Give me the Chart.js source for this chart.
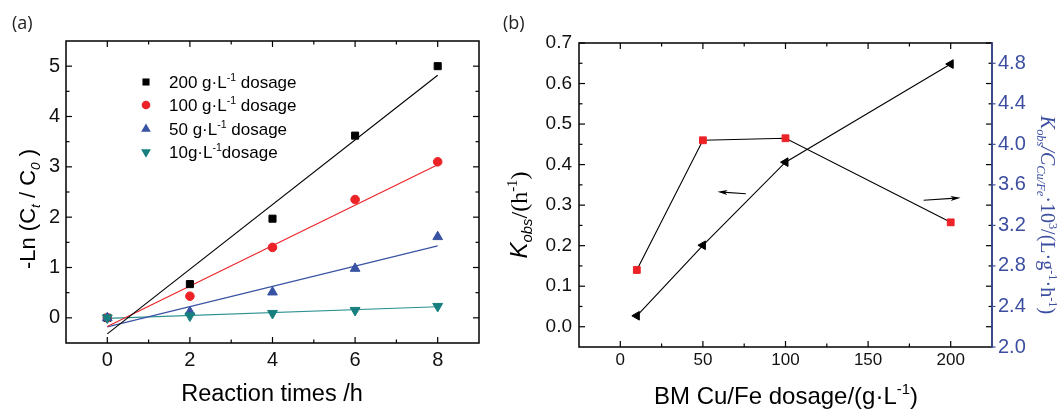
<!DOCTYPE html>
<html>
<head>
<meta charset="utf-8">
<script src="https://cdn.jsdelivr.net/npm/chart.js@4.4.0/dist/chart.umd.min.js"></script>
<style>
html, body { margin: 0; padding: 0; background: #fff; }
#wrap { position: relative; width: 1059px; height: 410px; overflow: hidden; }
#chartA { position: absolute; left: 0; top: 0; }
#chartB { position: absolute; left: 500px; top: 0; }
</style>
</head>
<body>
<div id="wrap">
  <canvas id="chartA" width="500" height="410"></canvas>
  <canvas id="chartB" width="559" height="410"></canvas>
</div>
<script>
// ---- panel (a): -Ln(Ct/C0) vs reaction time ----
const timesH = [0, 2, 4, 6, 8];
const dose200 = [0, 0.67, 1.97, 3.62, 5.0];
const dose100 = [0, 0.43, 1.40, 2.35, 3.10];
const dose50 = [0, 0.12, 0.51, 0.98, 1.61];
const dose10 = [0, 0.04, 0.09, 0.15, 0.23];

// fitted lines, read at t = 0 and t = 8
const fitT = [0, 8];
const fit200 = [-0.32, 4.82];
const fit100 = [-0.17, 3.04];
const fit50 = [-0.18, 1.43];
const fit10 = [-0.01, 0.22];

const aXTicks = [0, 2, 4, 6, 8];
const aXMinor = [1, 3, 5, 7];
const aYTicks = [0, 1, 2, 3, 4, 5];
const aYMinor = [0.5, 1.5, 2.5, 3.5, 4.5];

// ---- panel (b): Kobs and Kobs/C vs dosage ----
const dosageB = [10, 50, 100, 200];
const kObs = [0.027, 0.201, 0.406, 0.648];
const kNorm = [2.76, 4.04, 4.06, 3.23];

const bXTicks = [0, 50, 100, 150, 200];
const bXMinor = [25, 75, 125, 175];
const bYTicks = [0, 0.1, 0.2, 0.3, 0.4, 0.5, 0.6, 0.7];
const bYMinor = [0.05, 0.15, 0.25, 0.35, 0.45, 0.55, 0.65];
const bY2Ticks = [2.0, 2.4, 2.8, 3.2, 3.6, 4.0, 4.4, 4.8];

// arrows (tail -> head) pointing to the axis of each curve
const arrowLeftX = [76, 58.8];
const arrowLeftY = [0.328, 0.333];
const arrowRightX = [183.6, 206];
const arrowRightY = [0.312, 0.318];

const SANS = "'Liberation Sans', Arial, sans-serif";
const SERIF = "'Liberation Serif', 'Times New Roman', serif";
const TAG = "'Open Sans', 'Liberation Sans', sans-serif";
const BLUE_AXIS = '#3c4ea0';
const RED = '#ec2227';
const BLUE = '#3953a4';
const TEAL = '#17807e';

Chart.defaults.font.family = SANS;
Chart.defaults.color = '#111';

const toXY = (xs, ys) => xs.map((x, i) => ({ x: x, y: ys[i] }));

// draw text with sub/superscripts, y is the baseline
function drawRich(ctx, it) {
  const base = it.size;
  let w = 0;
  const segs = it.parts.map(p => {
    const small = p.sub || p.sup;
    const sz = small ? base * 0.62 : base;
    const font = (p.italic ? 'italic ' : '') + sz + 'px ' + (p.family || it.family);
    ctx.font = font;
    const seg = { t: p.t, font: font, dx: w, dy: p.sub ? base * 0.22 : (p.sup ? -base * 0.42 : 0) };
    w += ctx.measureText(p.t).width;
    return seg;
  });
  ctx.save();
  ctx.translate(it.x, it.y);
  if (it.rot) ctx.rotate(it.rot * Math.PI / 180);
  const start = it.align === 'center' ? -w / 2 : (it.align === 'right' ? -w : 0);
  ctx.fillStyle = it.color || '#000';
  ctx.textBaseline = 'alphabetic';
  ctx.textAlign = 'left';
  segs.forEach(s => { ctx.font = s.font; ctx.fillText(s.t, start + s.dx, s.dy); });
  ctx.restore();
}

function drawMarker(ctx, style, x, y, r, color) {
  ctx.save();
  ctx.fillStyle = color;
  ctx.beginPath();
  if (style === 'rect') {
    const s = r * Math.SQRT1_2;
    ctx.rect(x - s, y - s, 2 * s, 2 * s);
  } else if (style === 'circle') {
    ctx.arc(x, y, r, 0, Math.PI * 2);
  } else {
    const rot = style === 'triDown' ? Math.PI : 0;
    for (let i = 0; i < 3; i++) {
      const ang = rot + i * 2 * Math.PI / 3;
      const px = x + Math.sin(ang) * r, py = y - Math.cos(ang) * r;
      if (i === 0) ctx.moveTo(px, py); else ctx.lineTo(px, py);
    }
  }
  ctx.closePath();
  ctx.fill();
  ctx.restore();
}

// frame with inward ticks on all four sides
function framePlugin(cfg) {
  return {
    id: 'frame_' + cfg.name,
    afterDatasetsDraw(chart) {
      const ctx = chart.ctx, a = chart.chartArea, sx = chart.scales.x, sy = chart.scales.y;
      ctx.save();
      ctx.strokeStyle = '#000';
      ctx.lineWidth = 1.2;
      const seg = (x1, y1, x2, y2) => { ctx.beginPath(); ctx.moveTo(x1, y1); ctx.lineTo(x2, y2); ctx.stroke(); };
      const xt = (vals, len) => vals.forEach(v => {
        const p = sx.getPixelForValue(v);
        seg(p, a.bottom, p, a.bottom - len); seg(p, a.top, p, a.top + len);
      });
      const yt = (vals, len) => vals.forEach(v => {
        const p = sy.getPixelForValue(v);
        seg(a.left, p, a.left + len, p); seg(a.right, p, a.right - len, p);
      });
      xt(cfg.xMajor, 6); xt(cfg.xMinor, 3.5);
      yt(cfg.yMajor, 6); yt(cfg.yMinor, 3.5);
      ctx.lineWidth = 1.5;
      ctx.strokeRect(a.left, a.top, a.right - a.left, a.bottom - a.top);
      if (cfg.y2Major) {
        const s2 = chart.scales.y2;
        ctx.strokeStyle = BLUE_AXIS;
        seg(a.right, a.top - 0.75, a.right, a.bottom + 0.75);
        ctx.lineWidth = 1.2;
        cfg.y2Major.forEach(v => { const p = s2.getPixelForValue(v); seg(a.right, p, a.right + 3.5, p); });
      }
      ctx.restore();
    }
  };
}

function textPlugin(name, items) {
  return { id: 'text_' + name, afterDraw(chart) { items.forEach(it => drawRich(chart.ctx, it)); } };
}

// ---------------- panel (a) ----------------
const legendA = [
  { style: 'rect', r: 5, color: '#000', parts: [{ t: '200 g·L' }, { t: '-1', sup: true }, { t: ' dosage' }] },
  { style: 'circle', r: 4.3, color: RED, parts: [{ t: '100 g·L' }, { t: '-1', sup: true }, { t: ' dosage' }] },
  { style: 'triUp', r: 5.6, color: BLUE, parts: [{ t: '50 g·L' }, { t: '-1', sup: true }, { t: ' dosage' }] },
  { style: 'triDown', r: 5.7, color: TEAL, parts: [{ t: '10g·L' }, { t: '-1', sup: true }, { t: 'dosage' }] }
];
const legendRowsY = [82, 105, 129, 152];

const legendPluginA = {
  id: 'legendA',
  afterDraw(chart) {
    const ctx = chart.ctx;
    legendA.forEach((item, i) => {
      const y = legendRowsY[i];
      drawMarker(ctx, item.style, 146, y, item.r, item.color);
      drawRich(ctx, { x: 169, y: y + 6, size: 17, family: SANS, parts: item.parts });
    });
  }
};

const pointSet = (label, ys, color, style, radius, rotation, order) => ({
  label: label, data: toXY(timesH, ys), showLine: false, order: order,
  pointStyle: style, rotation: rotation, pointRadius: radius,
  backgroundColor: color, borderColor: color, pointBorderWidth: 1
});
const fitSet = (ys, color) => ({
  data: toXY(fitT, ys), showLine: true, pointRadius: 0, order: 10,
  borderColor: color, borderWidth: 1.1, fill: false
});

new Chart(document.getElementById('chartA'), {
  type: 'scatter',
  data: {
    datasets: [
      pointSet('200', dose200, '#000', 'rect', 5, 0, 4),
      pointSet('100', dose100, RED, 'circle', 4.3, 0, 3),
      pointSet('50', dose50, BLUE, 'triangle', 5.6, 0, 2),
      pointSet('10', dose10, TEAL, 'triangle', 5.7, 180, 1),
      fitSet(fit200, '#000'),
      fitSet(fit100, RED),
      fitSet(fit50, BLUE),
      fitSet(fit10, '#2a9090')
    ]
  },
  options: {
    responsive: false,
    animation: false,
    layout: { padding: { left: 0, top: 41, right: 21, bottom: 0 } },
    plugins: { legend: { display: false }, tooltip: { enabled: false } },
    scales: {
      x: {
        type: 'linear', min: -1, max: 9,
        grid: { display: false, drawTicks: false }, border: { display: false },
        afterBuildTicks: ax => { ax.ticks = aXTicks.map(v => ({ value: v })); },
        afterFit: ax => { ax.height = 67; },
        ticks: { autoSkip: false, padding: 5, color: '#111', font: { size: 20 } }
      },
      y: {
        type: 'linear', min: -0.5, max: 5.5,
        grid: { display: false, drawTicks: false }, border: { display: false },
        afterBuildTicks: ax => { ax.ticks = aYTicks.map(v => ({ value: v })); },
        afterFit: ax => { ax.width = 66; },
        ticks: { autoSkip: false, padding: 6, color: '#111', font: { size: 20 } }
      }
    }
  },
  plugins: [
    framePlugin({ name: 'a', xMajor: aXTicks, xMinor: aXMinor, yMajor: aYTicks, yMinor: aYMinor }),
    legendPluginA,
    textPlugin('a', [
      { x: 12, y: 29, size: 18, family: TAG, color: '#222', parts: [{ t: '(a)' }] },
      { x: 272, y: 401, size: 23.5, family: SANS, align: 'center', parts: [{ t: 'Reaction times /h' }] },
      { x: 35, y: 209, rot: -90, size: 22, family: SANS, align: 'center',
        parts: [{ t: '-Ln (C' }, { t: 't', sub: true, italic: true }, { t: ' / C' }, { t: '0', sub: true, italic: true }, { t: ' )' }] }
    ])
  ]
});

// ---------------- panel (b) ----------------
const arrowPluginB = {
  id: 'arrowsB',
  afterDatasetsDraw(chart) {
    const ctx = chart.ctx, sx = chart.scales.x, sy = chart.scales.y;
    [[arrowLeftX, arrowLeftY], [arrowRightX, arrowRightY]].forEach(([xs, ys]) => {
      const x1 = sx.getPixelForValue(xs[0]), y1 = sy.getPixelForValue(ys[0]);
      const x2 = sx.getPixelForValue(xs[1]), y2 = sy.getPixelForValue(ys[1]);
      const ang = Math.atan2(y2 - y1, x2 - x1);
      ctx.save();
      ctx.strokeStyle = '#000'; ctx.fillStyle = '#000'; ctx.lineWidth = 1.1;
      ctx.beginPath(); ctx.moveTo(x1, y1); ctx.lineTo(x2 - Math.cos(ang) * 5, y2 - Math.sin(ang) * 5); ctx.stroke();
      ctx.translate(x2, y2); ctx.rotate(ang);
      ctx.beginPath(); ctx.moveTo(0, 0); ctx.lineTo(-10, -2.6); ctx.lineTo(-7.5, 0); ctx.lineTo(-10, 2.6); ctx.closePath(); ctx.fill();
      ctx.restore();
    });
  }
};

new Chart(document.getElementById('chartB'), {
  type: 'scatter',
  data: {
    datasets: [
      {
        label: 'Kobs', data: toXY(dosageB, kObs), yAxisID: 'y', showLine: true, order: 1,
        borderColor: '#000', borderWidth: 1.1, backgroundColor: '#000',
        pointStyle: 'triangle', rotation: -90, pointRadius: 5, pointBorderWidth: 1
      },
      {
        label: 'Kobs/C', data: toXY(dosageB, kNorm), yAxisID: 'y2', showLine: true, order: 2,
        borderColor: '#000', borderWidth: 1.1, backgroundColor: RED,
        pointBackgroundColor: RED, pointBorderColor: RED,
        pointStyle: 'rect', pointRadius: 4.8, pointBorderWidth: 1
      }
    ]
  },
  options: {
    responsive: false,
    animation: false,
    layout: { padding: { left: 0, top: 43, right: 0, bottom: 0 } },
    plugins: { legend: { display: false }, tooltip: { enabled: false } },
    scales: {
      x: {
        type: 'linear', min: -25, max: 225,
        grid: { display: false, drawTicks: false }, border: { display: false },
        afterBuildTicks: ax => { ax.ticks = bXTicks.map(v => ({ value: v })); },
        afterFit: ax => { ax.height = 63; },
        ticks: { autoSkip: false, padding: 3, color: '#111', font: { size: 17 } }
      },
      y: {
        type: 'linear', position: 'left', min: -0.05, max: 0.7,
        grid: { display: false, drawTicks: false }, border: { display: false },
        afterBuildTicks: ax => { ax.ticks = bYTicks.map(v => ({ value: v })); },
        afterFit: ax => { ax.width = 79; },
        ticks: { autoSkip: false, padding: 7, color: '#111', font: { size: 19 }, callback: v => Number(v).toFixed(1) }
      },
      y2: {
        type: 'linear', position: 'right', min: 2.0, max: 5.0,
        grid: { display: false, drawTicks: false }, border: { display: false },
        afterBuildTicks: ax => { ax.ticks = bY2Ticks.map(v => ({ value: v })); },
        afterFit: ax => { ax.width = 67; },
        ticks: { autoSkip: false, padding: 6, color: BLUE_AXIS, font: { size: 20 }, callback: v => Number(v).toFixed(1) }
      }
    }
  },
  plugins: [
    framePlugin({ name: 'b', xMajor: bXTicks, xMinor: bXMinor, yMajor: bYTicks, yMinor: bYMinor, y2Major: bY2Ticks }),
    arrowPluginB,
    textPlugin('b', [
      { x: 3, y: 29, size: 18, family: TAG, color: '#222', parts: [{ t: '(b)' }] },
      { x: 286, y: 404, size: 24, family: SANS, align: 'center',
        parts: [{ t: 'BM Cu/Fe dosage/(g·L' }, { t: '-1', sup: true }, { t: ')' }] },
      { x: 27, y: 215, rot: -90, size: 24, family: SANS, align: 'center',
        parts: [{ t: 'K', italic: true }, { t: 'obs', sub: true, italic: true }, { t: '/(h', family: SERIF }, { t: '-1', sup: true, family: SERIF }, { t: ')', family: SERIF }] },
      { x: 541, y: 215, rot: 90, size: 20, family: SERIF, align: 'center', color: BLUE_AXIS,
        parts: [{ t: 'K', italic: true }, { t: 'obs', sub: true, italic: true }, { t: '/C', italic: true },
          { t: 'Cu/Fe', sub: true, italic: true }, { t: '·10' }, { t: '3', sup: true }, { t: '/(L·g' },
          { t: '-1', sup: true }, { t: '·h' }, { t: '-1', sup: true }, { t: ')' }] }
    ])
  ]
});
</script>
</body>
</html>
